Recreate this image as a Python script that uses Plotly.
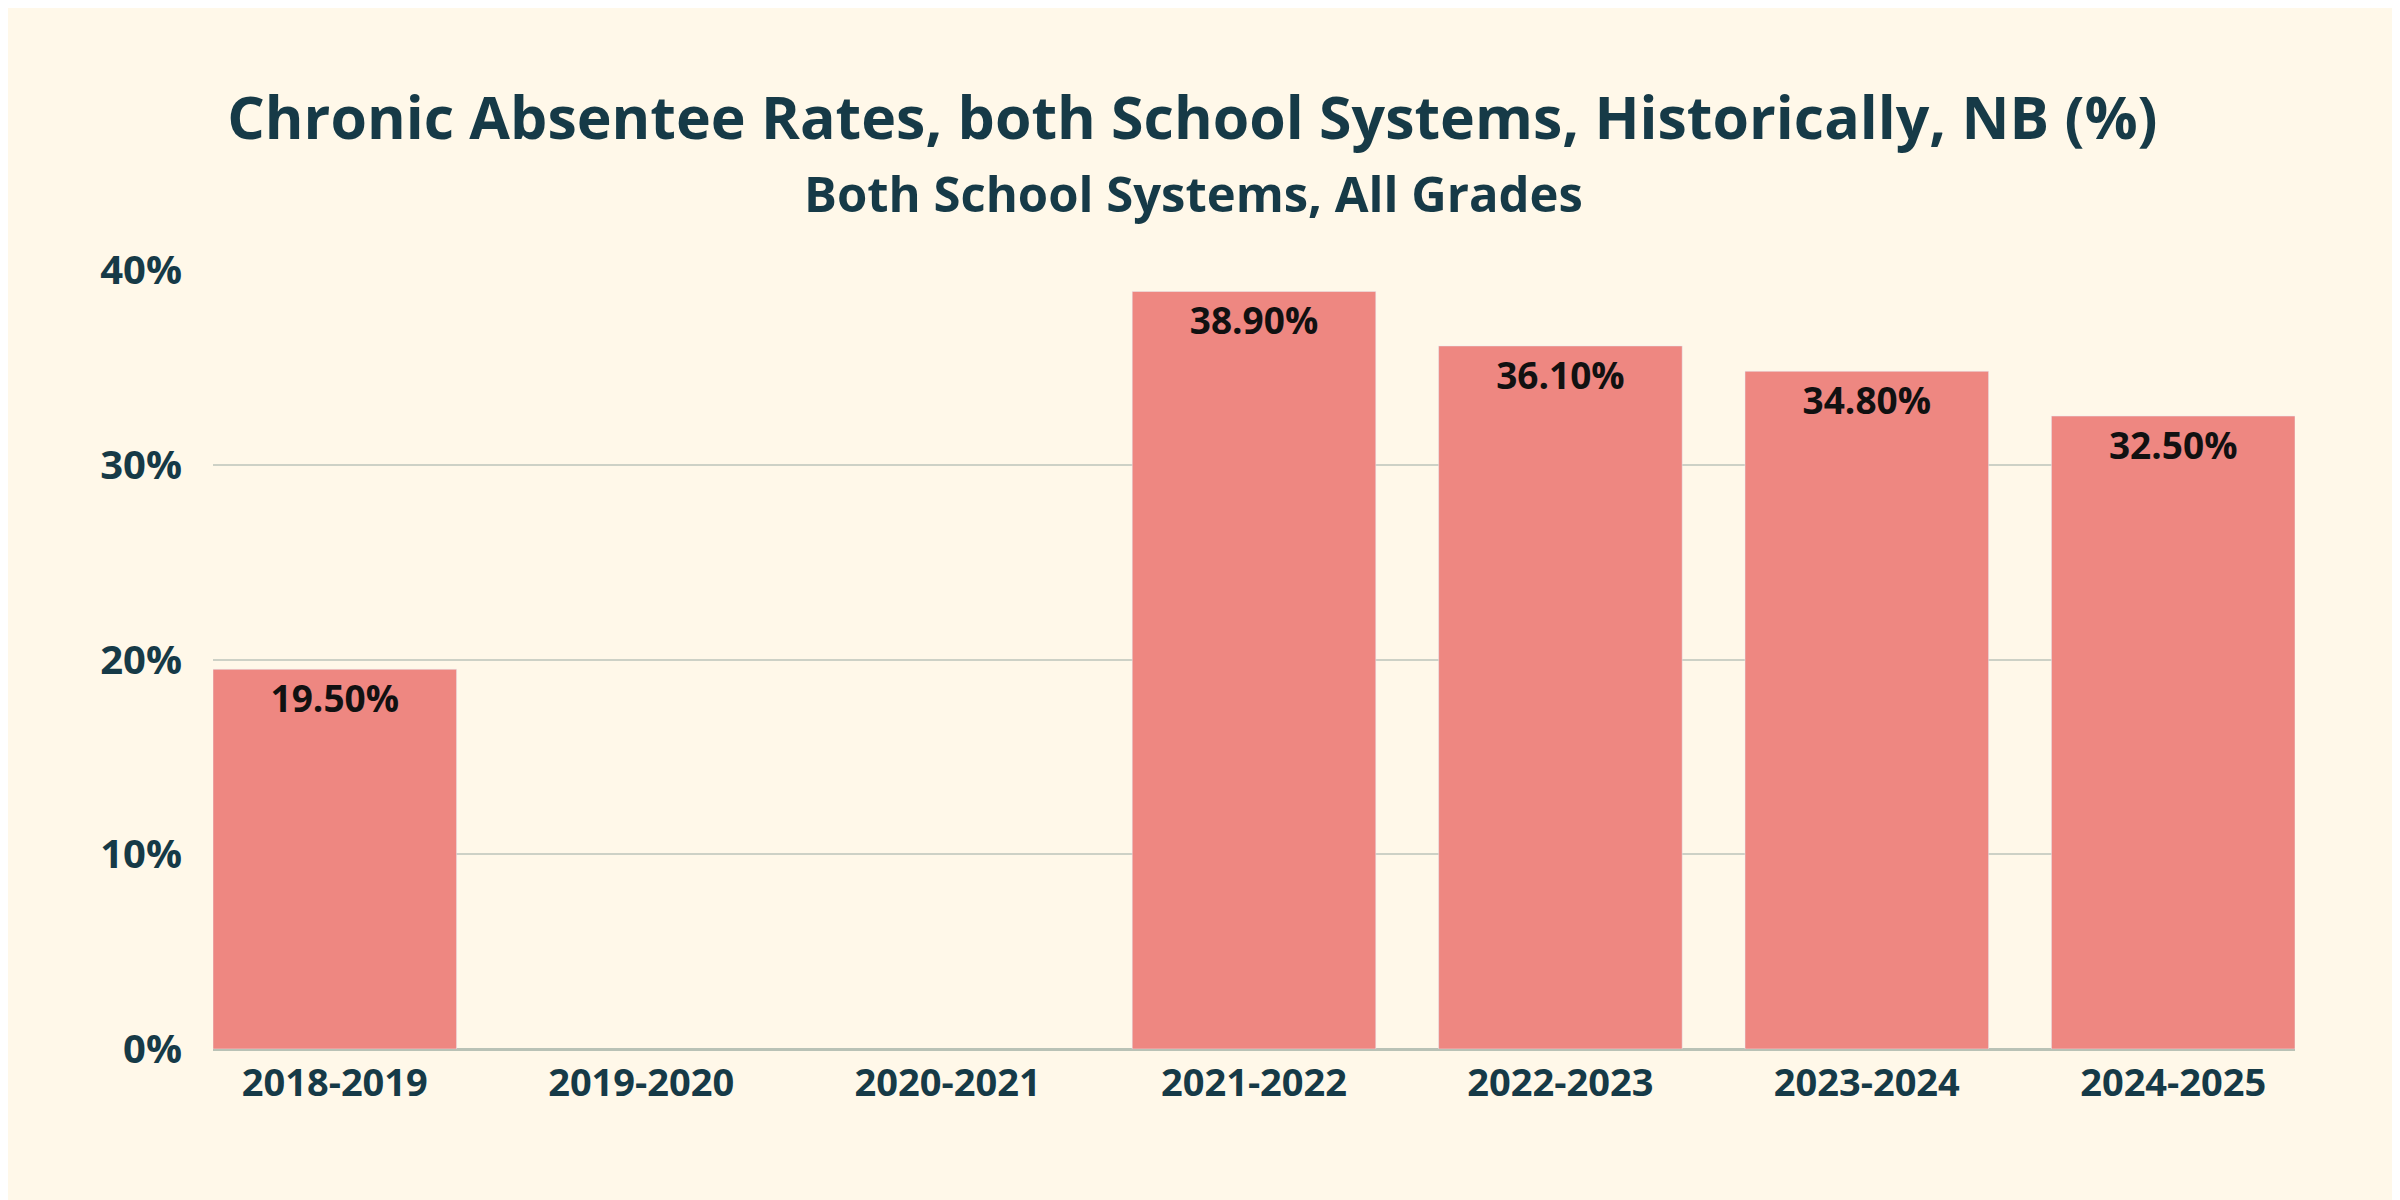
import plotly.graph_objects as go

# Data
years = ['2018-2019', '2019-2020', '2020-2021', '2021-2022', '2022-2023', '2023-2024', '2024-2025']
rates = [19.5, None, None, 38.9, 36.1, 34.8, 32.5]
labels = ['' if r is None else f'{r:.2f}%' for r in rates]

navy = '#163A47'
bg = '#FFF8E9'
gap = 0.205

fig = go.Figure()

fig.add_trace(go.Bar(
    x=years, y=rates,
    text=labels, textposition='inside', insidetextanchor='end',
    textfont=dict(family='Open Sans', size=37, color='#111111', weight='bold'),
    textangle=0,
    marker=dict(color='#EE8781'),
    cliponaxis=False,
))

# title and subtitle
fig.update_layout(
    title=dict(
        text='<b>Chronic Absentee Rates, both School Systems, Historically, NB (%)</b>',
        x=0.4935, xanchor='center', y=1 - 110 / 1200, yanchor='middle',
        font=dict(family='Open Sans', size=59, color=navy),
    ),
)
fig.add_annotation(
    text='<b>Both School Systems, All Grades</b>',
    xref='paper', yref='paper', x=(1185 - 205) / 2082, y=(1041 - 185) / 779,
    xanchor='center', yanchor='middle', showarrow=False,
    font=dict(family='Open Sans', size=49, color=navy),
)

fig.update_layout(
    width=2400, height=1200,
    paper_bgcolor=bg, plot_bgcolor=bg,
    margin=dict(l=205, r=113, t=262, b=159),
    bargap=gap,
    showlegend=False,
)

fig.update_yaxes(
    range=[0, 40], dtick=10, ticksuffix='%',
    showgrid=True, gridcolor='#CDD1C6', gridwidth=2,
    zeroline=True, zerolinecolor='#B9C2B6', zerolinewidth=3,
    tickfont=dict(family='Open Sans', size=40, color=navy, weight='bold'),
    ticks='', ticklabelstandoff=30,
)
fig.update_xaxes(
    range=[-(1 - gap) / 2, len(years) - 1 + (1 - gap) / 2],
    tickfont=dict(family='Open Sans', size=38, color=navy, weight='bold'),
    ticklabelstandoff=8,
)

fig.write_html('out.html')
